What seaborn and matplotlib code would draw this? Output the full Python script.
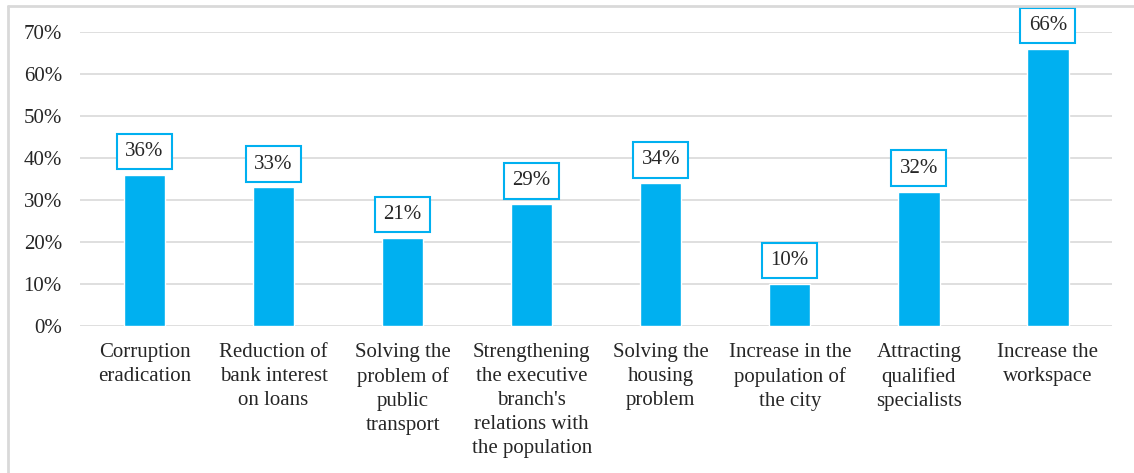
import matplotlib
matplotlib.use("Agg")
import matplotlib.pyplot as plt
from matplotlib.lines import Line2D
import seaborn as sns
import pandas as pd

categories = [
    "Corruption\neradication",
    "Reduction of\nbank interest\non loans",
    "Solving the\nproblem of\npublic\ntransport",
    "Strengthening\nthe executive\nbranch's\nrelations with\nthe population",
    "Solving the\nhousing\nproblem",
    "Increase in the\npopulation of\nthe city",
    "Attracting\nqualified\nspecialists",
    "Increase the\nworkspace",
]
values = [36, 33, 21, 29, 34, 10, 32, 66]
y_ticks = [0, 10, 20, 30, 40, 50, 60, 70]
y_tick_labels = [f"{v}%" for v in y_ticks]

BLUE = "#00B0F0"
GRID = "#D9D9D9"
TEXT = "#262626"
FS = 15

sns.set_theme(style="white")
plt.rcParams["font.family"] = ["Liberation Serif", "DejaVu Serif"]

df = pd.DataFrame({"category": categories, "value": values})

fig = plt.figure(figsize=(11.34, 4.73), dpi=100)
ax = fig.add_axes([0.0705, 0.311, 0.9105, 0.621])

sns.barplot(data=df, x="category", y="value", color=BLUE, saturation=1,
            width=0.32, ax=ax, zorder=3)

ax.set_ylim(0, 70)
ax.set_yticks(y_ticks)
ax.set_yticklabels(y_tick_labels, fontsize=FS, color=TEXT)
ax.set_xticks(range(len(categories)))
ax.set_xticklabels(categories, fontsize=FS, color=TEXT, linespacing=1.37,
                   va="top", ha="center")
ax.tick_params(axis="y", length=0, pad=13)
ax.tick_params(axis="x", length=0, pad=12)

ax.grid(axis="y", color=GRID, linewidth=1.2, zorder=0)
ax.set_axisbelow(True)
for side in ["top", "right", "left", "bottom"]:
    ax.spines[side].set_visible(False)
ax.set_xlabel("")
ax.set_ylabel("")

# value labels in outlined boxes above each bar
for i, v in enumerate(values):
    ax.annotate(f"{v}%", xy=(i, v), xytext=(0, 10), textcoords="offset points",
                ha="center", va="bottom", fontsize=FS, color=TEXT,
                bbox=dict(boxstyle="square,pad=0.4", facecolor="white",
                          edgecolor=BLUE, linewidth=1.5),
                zorder=5, annotation_clip=False)

# chart frame on left and top
fig.add_artist(Line2D([8 / 1134, 8 / 1134], [0, 1 - 6 / 473],
                      transform=fig.transFigure, color=GRID, linewidth=2))
fig.add_artist(Line2D([8 / 1134, 1], [1 - 6 / 473, 1 - 6 / 473],
                      transform=fig.transFigure, color=GRID, linewidth=2))

fig.savefig("out.png", dpi=100)
